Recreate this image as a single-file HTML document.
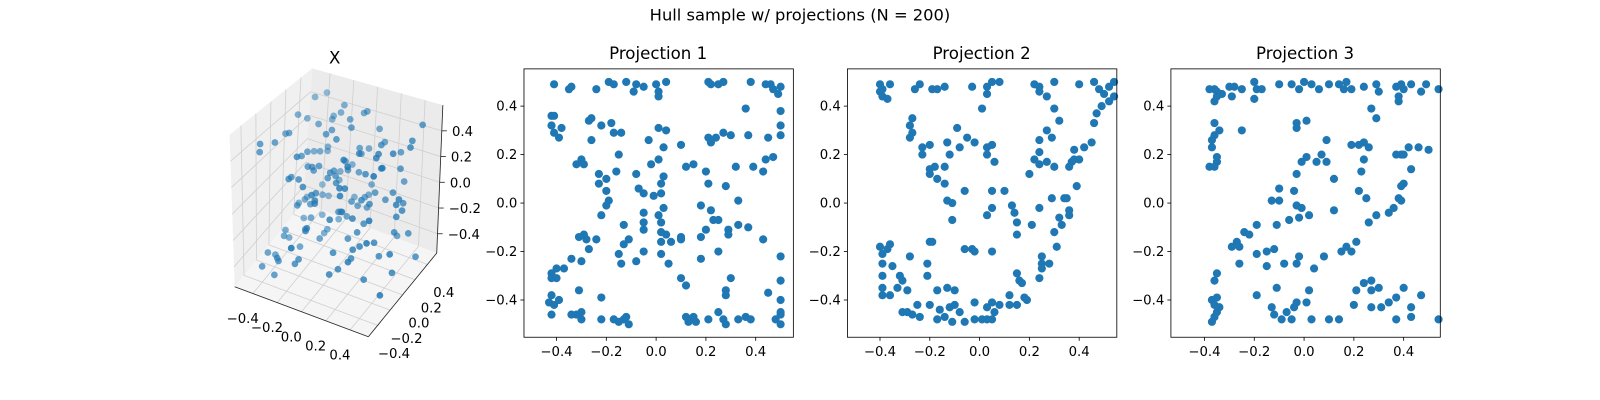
<!DOCTYPE html>
<html><head><meta charset="utf-8"><style>
html,body{margin:0;padding:0;background:#fff;overflow:hidden;width:1600px;height:400px;}
svg{display:block;font-family:"DejaVu Sans","Liberation Sans",sans-serif;}
</style></head><body>
<svg id="fig" width="1600" height="400" viewBox="0 0 1600 400" xmlns="http://www.w3.org/2000/svg">
<rect width="1600" height="400" fill="#fff"/>
<g transform="scale(1.0204)">
<text x="784" y="20" font-size="16" text-anchor="middle" fill="#000">Hull sample w/ projections (N = 200)</text>
<g id="ax3d"></g>
<g id="p1"></g>
<g id="p2"></g>
<g id="p3"></g>
</g>
</svg>
<script>
const tickValues = [-0.4, -0.2, 0.0, 0.2, 0.4];
const tickLabels = ["\u22120.4", "\u22120.2", "0.0", "0.2", "0.4"];
const panelTitles = ["Projection 1", "Projection 2", "Projection 3"];
const proj1 = [[-0.41,0.49],[-0.35,0.47],[-0.34,0.48],[-0.24,0.47],[-0.19,0.50],[-0.17,0.49],[-0.12,0.50],[-0.08,0.49],[-0.09,0.46],[-0.05,0.48],[0.00,0.49],[0.01,0.46],[0.01,0.44],[0.04,0.50],[0.21,0.50],[0.22,0.49],[0.25,0.49],[0.27,0.50],[0.38,0.50],[0.44,0.49],[0.46,0.49],[0.47,0.47],[0.49,0.45],[0.50,0.48],
[0.36,0.39],[0.50,0.38],[-0.42,0.36],[-0.41,0.36],[-0.42,0.32],[-0.41,0.29],[-0.38,0.31],[-0.39,0.27],[-0.27,0.34],[-0.26,0.35],[-0.22,0.32],[-0.18,0.33],[-0.17,0.29],[-0.14,0.29],[-0.26,0.26],[0.01,0.31],[0.04,0.30],[-0.03,0.26],[0.03,0.23],[0.10,0.24],[0.21,0.27],[0.22,0.25],[0.24,0.27],[0.27,0.29],[0.30,0.28],[0.37,0.28],[0.45,0.27],[0.50,0.32],[0.50,0.28],
[-0.32,0.16],[-0.30,0.18],[-0.29,0.16],[-0.15,0.20],[-0.16,0.13],[-0.23,0.12],[-0.23,0.08],[-0.20,0.10],[-0.08,0.12],[-0.02,0.16],[0.01,0.18],[0.03,0.11],[0.02,0.08],[0.12,0.15],[0.15,0.16],[0.20,0.13],[0.21,0.08],[0.32,0.15],[0.39,0.15],[0.43,0.13],[0.44,0.18],[0.47,0.19],[0.28,0.07],
[-0.20,0.05],[-0.19,0.01],[-0.20,-0.01],[-0.22,-0.05],[-0.07,0.06],[-0.05,0.04],[-0.01,0.03],[0.02,0.04],[-0.05,-0.04],[0.01,-0.05],[0.03,-0.02],[0.18,-0.01],[0.22,-0.03],[0.23,-0.07],[0.25,-0.07],[0.33,0.01],
[-0.13,-0.09],[-0.05,-0.08],[-0.05,-0.11],[0.02,-0.08],[0.02,-0.12],[0.04,-0.13],[0.02,-0.16],[0.06,-0.16],[0.10,-0.14],[0.10,-0.15],[0.20,-0.11],[0.18,-0.14],[0.29,-0.11],[0.29,-0.13],[0.33,-0.09],[0.37,-0.10],[0.43,-0.15],
[-0.31,-0.14],[-0.29,-0.13],[-0.28,-0.15],[-0.24,-0.15],[-0.27,-0.19],[-0.11,-0.15],[-0.13,-0.17],[-0.15,-0.21],[-0.14,-0.25],[-0.08,-0.24],[-0.05,-0.20],[0.02,-0.21],[0.05,-0.25],[0.18,-0.23],[0.25,-0.20],[0.50,-0.22],
[-0.34,-0.23],[-0.30,-0.24],[-0.37,-0.27],[-0.40,-0.27],[-0.42,-0.29],[-0.42,-0.31],[-0.40,-0.31],[0.10,-0.31],[0.12,-0.34],[0.30,-0.31],[0.50,-0.32],
[-0.31,-0.36],[-0.42,-0.38],[-0.43,-0.41],[-0.41,-0.42],[-0.39,-0.40],[-0.22,-0.39],[0.28,-0.36],[0.28,-0.38],[0.45,-0.37],[0.50,-0.40],
[-0.42,-0.46],[-0.34,-0.46],[-0.32,-0.46],[-0.30,-0.45],[-0.30,-0.48],[-0.22,-0.48],[-0.17,-0.48],[-0.15,-0.49],[-0.13,-0.48],[-0.11,-0.50],[-0.12,-0.47],[0.12,-0.47],[0.15,-0.47],[0.16,-0.49],[0.13,-0.49],[0.21,-0.48],[0.25,-0.45],[0.27,-0.48],[0.28,-0.50],[0.33,-0.48],[0.36,-0.47],[0.38,-0.48],[0.48,-0.48],[0.50,-0.46],[0.50,-0.45],[0.50,-0.50]];
const proj2 = [[-0.40,0.49],[-0.39,0.47],[-0.40,0.46],[-0.39,0.44],[-0.37,0.43],[-0.36,0.49],[-0.26,0.47],[-0.24,0.49],[-0.19,0.47],[-0.17,0.47],[-0.14,0.48],[-0.03,0.48],[0.03,0.48],[0.05,0.50],[0.08,0.50],[0.03,0.45],[0.01,0.39],[0.22,0.49],[0.24,0.48],[0.24,0.46],[0.27,0.44],[0.30,0.50],[0.40,0.49],[0.46,0.50],[0.48,0.47],[0.50,0.45],[0.52,0.48],[0.54,0.44],[0.52,0.42],[0.49,0.40],[0.54,0.50],
[0.30,0.39],[0.32,0.34],[0.47,0.37],[0.46,0.33],[0.45,0.25],[0.42,0.23],[0.38,0.22],[0.38,0.18],[0.37,0.17],[0.40,0.18],[0.36,0.15],[0.39,0.07],
[-0.27,0.35],[-0.28,0.32],[-0.27,0.29],[-0.28,0.27],[-0.23,0.23],[-0.20,0.24],[-0.23,0.20],[-0.18,0.15],[-0.20,0.14],[-0.20,0.12],[-0.14,0.15],[-0.17,0.10],[-0.14,0.08],[-0.13,0.25],[-0.12,0.20],[-0.08,0.23],[-0.09,0.31],[-0.05,0.27],[-0.02,0.25],[0.03,0.23],[0.05,0.24],[0.03,0.20],[0.06,0.17],
[-0.06,0.05],[0.05,0.05],[0.10,0.05],[-0.13,0.01],[-0.11,0.00],[-0.11,-0.07],[0.05,-0.02],[0.03,-0.05],[0.13,-0.01],[0.14,-0.04],[0.15,-0.08],[0.15,-0.13],[0.21,-0.09],[0.24,-0.02],
[0.20,0.12],[0.22,0.18],[0.24,0.21],[0.24,0.16],[0.27,0.17],[0.30,0.15],[0.24,0.26],[0.27,0.30],[0.29,0.27],
[0.29,0.02],[0.34,0.02],[0.35,0.02],[0.36,-0.03],[0.36,-0.05],[0.32,-0.06],[0.33,-0.09],[0.30,-0.12],[0.31,-0.18],[0.25,-0.22],[0.25,-0.25],[0.25,-0.27],[0.28,-0.25],[0.24,-0.31],
[-0.40,-0.18],[-0.37,-0.19],[-0.36,-0.17],[-0.39,-0.21],[-0.39,-0.25],[-0.39,-0.30],[-0.39,-0.35],[-0.39,-0.38],[-0.36,-0.38],[-0.35,-0.26],[-0.28,-0.22],[-0.32,-0.30],[-0.31,-0.32],[-0.33,-0.35],[-0.29,-0.36],[-0.21,-0.25],[-0.21,-0.30],[-0.20,-0.16],[-0.19,-0.16],
[-0.06,-0.19],[-0.03,-0.19],[-0.02,-0.20],[0.05,-0.20],[-0.17,-0.36],[-0.13,-0.35],[-0.10,-0.36],[0.15,-0.29],[0.16,-0.32],[0.17,-0.33],[0.12,-0.38],[0.18,-0.39],[0.19,-0.40],
[-0.31,-0.45],[-0.29,-0.45],[-0.27,-0.46],[-0.25,-0.42],[-0.24,-0.47],[-0.20,-0.42],[-0.17,-0.48],[-0.16,-0.44],[-0.14,-0.47],[-0.12,-0.43],[-0.10,-0.42],[-0.11,-0.49],[-0.08,-0.45],[-0.06,-0.49],[-0.02,-0.41],[-0.02,-0.48],[0.01,-0.48],[0.03,-0.43],[0.03,-0.48],[0.05,-0.41],[0.06,-0.45],[0.08,-0.42],[0.05,-0.48],[0.12,-0.42],[0.15,-0.42]];
const proj3 = [[-0.38,0.47],[-0.36,0.47],[-0.35,0.46],[-0.33,0.45],[-0.36,0.42],[-0.35,0.44],[-0.30,0.48],[-0.28,0.48],[-0.25,0.47],[-0.29,0.44],[-0.20,0.50],[-0.19,0.47],[-0.17,0.47],[-0.20,0.43],[-0.10,0.49],[-0.05,0.49],[-0.02,0.47],[0.00,0.50],[0.03,0.49],[0.06,0.47],[0.10,0.49],[0.14,0.49],[0.17,0.50],[0.16,0.47],[0.19,0.47],[0.24,0.48],[0.29,0.49],[0.30,0.46],[0.37,0.48],[0.39,0.49],[0.40,0.47],[0.43,0.49],[0.47,0.46],[0.49,0.49],[0.38,0.44],[0.38,0.42],[0.54,0.47],[0.27,0.39],[0.29,0.35],
[-0.36,0.33],[-0.34,0.30],[-0.36,0.28],[-0.37,0.26],[-0.37,0.23],[-0.35,0.19],[-0.35,0.17],[-0.38,0.15],[-0.36,0.15],[-0.25,0.30],[-0.03,0.33],[-0.03,0.31],[0.01,0.34],[0.09,0.26],[-0.01,0.17],[0.01,0.19],[0.05,0.17],[0.07,0.20],[0.09,0.17],[-0.03,0.12],[0.12,0.10],
[0.19,0.24],[0.22,0.24],[0.24,0.25],[0.26,0.23],[0.24,0.18],[0.23,0.13],[0.22,0.05],[0.25,0.02],[0.26,-0.08],[0.29,-0.05],[0.37,0.20],[0.39,0.20],[0.40,0.20],[0.42,0.23],[0.46,0.23],[0.50,0.22],[0.43,0.14],[0.40,0.08],[0.39,0.07],[0.38,0.02],[0.39,0.01],[0.36,-0.02],[0.34,-0.04],
[-0.10,0.06],[-0.04,0.05],[-0.13,0.01],[-0.10,0.01],[-0.03,-0.01],[-0.01,-0.02],[-0.02,-0.06],[0.02,-0.05],[0.12,-0.03],[-0.11,-0.09],[-0.06,-0.07],[-0.19,-0.09],[-0.24,-0.12],[-0.22,-0.13],[-0.27,-0.16],[-0.29,-0.18],[-0.26,-0.18],[-0.26,-0.25],[-0.19,-0.21],[-0.15,-0.20],[-0.12,-0.19],[-0.15,-0.26],[-0.08,-0.25],[-0.02,-0.22],[-0.03,-0.25],[0.04,-0.27],[0.08,-0.22],[0.15,-0.20],[0.17,-0.18],[0.19,-0.20],[0.21,-0.16],
[-0.35,-0.29],[-0.36,-0.32],[-0.37,-0.40],[-0.35,-0.39],[-0.36,-0.42],[-0.34,-0.43],[-0.35,-0.45],[-0.36,-0.47],[-0.37,-0.49],[-0.19,-0.38],[-0.11,-0.35],[-0.13,-0.43],[-0.12,-0.46],[-0.09,-0.48],[-0.07,-0.45],[-0.05,-0.48],[-0.04,-0.43],[-0.03,-0.41],[0.01,-0.41],[0.02,-0.36],[0.03,-0.48],[0.10,-0.48],[0.14,-0.48],
[0.20,-0.42],[0.21,-0.36],[0.24,-0.33],[0.27,-0.32],[0.27,-0.36],[0.30,-0.35],[0.27,-0.43],[0.31,-0.43],[0.34,-0.41],[0.37,-0.39],[0.40,-0.35],[0.43,-0.43],[0.43,-0.47],[0.37,-0.48],[0.47,-0.38],[0.54,-0.48]];

const NS = "http://www.w3.org/2000/svg";
function mk(parent, tag, attrs, text) {
  const e = document.createElementNS(NS, tag);
  for (const k in attrs) e.setAttribute(k, attrs[k]);
  if (text !== undefined) e.textContent = text;
  parent.appendChild(e);
  return e;
}

const panelLeft = [513, 830, 1147];
const panelW = 264, panelTop = 67, panelH = 263;
const pxPerUnit = 244, pyPerUnit = 237.5, yZero = 199;
const panelData = [proj1, proj2, proj3];
const xZero = [643, 960, 1278];
["p1","p2","p3"].forEach((id, pi) => {
  const g = document.getElementById(id);
  const sx = v => xZero[pi] + v * pxPerUnit;
  const sy = v => yZero - v * pyPerUnit;
  const L = panelLeft[pi];
  const t = mk(g, "text", {x: L + panelW / 2, y: 58, "font-size": 16.3, "text-anchor": "middle"}, panelTitles[pi]);
  
  
  const pts = mk(g, "g", {fill: "#1f77b4"});
  
  
  panelData[pi].forEach(p => {
    const c = mk(pts, "circle", {cx: sx(p[0]).toFixed(1), cy: sy(p[1]).toFixed(1), r: 4});
    
    
  });
  const fr = mk(g, "rect", {x: L + 0.5, y: panelTop + 0.5, width: panelW, height: panelH, fill: "none", stroke: "#000", "stroke-width": 0.8});
  
  
  tickValues.forEach((v, i) => {
    const x = sx(v), y = sy(v);
    mk(g, "line", {x1: x, x2: x, y1: panelTop + panelH + 0.5, y2: panelTop + panelH + 4, stroke: "#000", "stroke-width": 0.8});
    const xl = mk(g, "text", {x: x, y: panelTop + panelH + 19, "font-size": 13, "text-anchor": "middle"}, tickLabels[i]);
    
    
    mk(g, "line", {x1: L + 0.5, x2: L - 3, y1: y, y2: y, stroke: "#000", "stroke-width": 0.8});
    const yl = mk(g, "text", {x: L - 6, y: y + 4.5, "font-size": 13, "text-anchor": "end"}, tickLabels[i]);
    
    
  });
});

(function () {
  const g = document.getElementById("ax3d");
  const lo = -0.55, hi = 0.55, zlo = -0.55, zhi = 0.6;
  const O = [230, 281], ex = [131, 49], ey = [67, -82];
  function P(x, y, z) {
    const u = (x - lo) / (hi - lo), v = (y - lo) / (hi - lo), w = (z - zlo) / (zhi - zlo);
    const ezx = -5 * (1 - u) * (1 - v) + 9 * (1 - u) * v + 6 * u * v + 0 * u * (1 - v);
    const ezy = -149 * (1 - u) * (1 - v) - 132 * (1 - u) * v - 145 * u * v - 158 * u * (1 - v);
    return [O[0] + u * ex[0] + v * ey[0] + w * ezx, O[1] + u * ex[1] + v * ey[1] + w * ezy];
  }
  const poly = (pts, fill, name) => {
    const e = mk(g, "polygon", {points: pts.map(p => p.join(",")).join(" "), fill: fill, stroke: "none"});
    
    
  };
  poly([P(lo,lo,zlo),P(lo,hi,zlo),P(lo,hi,zhi),P(lo,lo,zhi)], "#f0f0f0", "left-pane");
  poly([P(lo,hi,zlo),P(hi,hi,zlo),P(hi,hi,zhi),P(lo,hi,zhi)], "#ebebeb", "back-pane");
  poly([P(lo,lo,zlo),P(hi,lo,zlo),P(hi,hi,zlo),P(lo,hi,zlo)], "#f5f5f5", "floor-pane");
  const line = (a, b, col, w) => mk(g, "line", {x1: a[0], y1: a[1], x2: b[0], y2: b[1], stroke: col, "stroke-width": w});
  tickValues.forEach(v => {
    line(P(v,lo,zlo), P(v,hi,zlo), "#d0d0d0", 0.8);
    line(P(lo,v,zlo), P(hi,v,zlo), "#d0d0d0", 0.8);
    line(P(lo,v,zlo), P(lo,v,zhi), "#d0d0d0", 0.8);
    line(P(lo,lo,v), P(lo,hi,v), "#d0d0d0", 0.8);
    line(P(v,hi,zlo), P(v,hi,zhi), "#d0d0d0", 0.8);
    line(P(lo,hi,v), P(hi,hi,v), "#d0d0d0", 0.8);
  });
  line(P(lo,lo,zlo), P(hi,lo,zlo), "#222", 0.8);
  line(P(hi,lo,zlo), P(hi,hi,zlo), "#222", 0.8);
  line(P(hi,hi,zlo), P(hi,hi,zhi), "#222", 0.8);
  const n = Math.min(proj1.length, proj3.length);
  const pts = [];
  for (let i = 0; i < n; i++) pts.push([proj1[i][0], proj3[(i * 7) % proj3.length][0], proj2[i % proj2.length][1]]);
  pts.sort((a, b) => (b[0] - b[1]) - (a[0] - a[1]));
  const pg = mk(g, "g", {fill: "#1f77b4"});
  
  
  pts.forEach(p => {
    const s = P(p[0], p[1], p[2]);
    const depth = (p[0] - p[1] + 1) / 2;
    const c = mk(pg, "circle", {cx: s[0].toFixed(1), cy: s[1].toFixed(1), r: 3.3, "fill-opacity": (0.45 + 0.45 * depth).toFixed(2)});
    
    
  });
  tickValues.forEach((v, i) => {
    const a = P(v, lo, zlo);
    const xl = mk(g, "text", {x: a[0] - 10, y: a[1] + 29, "font-size": 13, "text-anchor": "middle"}, tickLabels[i]);
    
    
    const b = P(hi, v, zlo);
    const yl = mk(g, "text", {x: b[0] + 16, y: b[1] + 32, "font-size": 13, "text-anchor": "middle"}, tickLabels[i]);
    
    
    const c = P(hi, hi, v);
    line([c[0], c[1]], [c[0] + 5, c[1]], "#222", 0.8);
    const zl = mk(g, "text", {x: c[0] + 10, y: c[1] + 5, "font-size": 13, "text-anchor": "start"}, tickLabels[i]);
    
    
  });
  const t = mk(g, "text", {x: 328, y: 62, "font-size": 16.3, "text-anchor": "middle"}, "X");
  
  
})();
</script>
</body></html>
